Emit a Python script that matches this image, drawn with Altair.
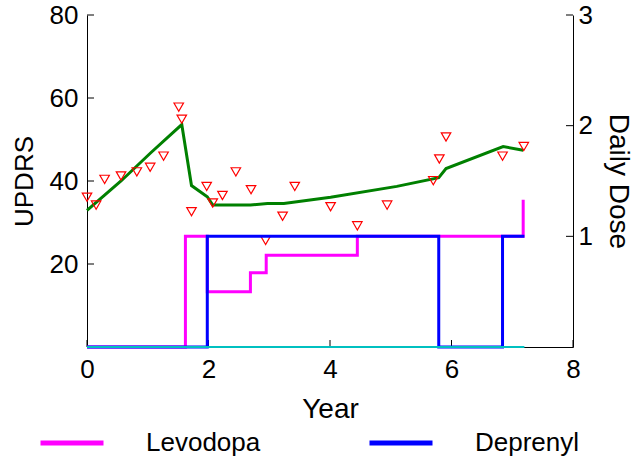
import altair as alt
import pandas as pd

# ---- data ----
obs_year = [0.0, 0.15, 0.29, 0.56, 0.82, 1.04, 1.26, 1.51, 1.56, 1.72, 1.97, 2.07, 2.23,
            2.45, 2.70, 2.94, 3.22, 3.42, 4.01, 4.45, 4.94, 5.70, 5.80, 5.91, 6.84, 7.19]
obs_updrs = [36.1, 34.2, 40.4, 41.2, 42.2, 43.3, 46.0, 57.8, 54.9, 32.6, 38.7, 34.7, 36.5,
             42.2, 37.9, 25.7, 31.5, 38.7, 33.8, 29.2, 34.2, 40.1, 45.3, 50.6, 46.0, 48.3]

fit_year = [0.0, 0.56, 1.05, 1.56, 1.72, 1.98, 2.07, 2.69, 2.97, 3.24, 4.01, 5.10, 5.79, 5.91, 6.85, 7.18]
fit_updrs = [32.9, 40.0, 46.8, 53.6, 38.9, 36.2, 34.2, 34.2, 34.6, 34.6, 36.1, 38.7, 40.8, 43.0, 48.3, 47.4]

levodopa_year = [0.0, 1.62, 1.98, 2.69, 2.95, 4.45, 7.18]
levodopa_dose = [0.0, 1.0, 0.5, 0.67, 0.83, 1.0, 1.33]

deprenyl_year = [0.0, 1.98, 5.79, 6.84, 7.2]
deprenyl_dose = [0.0, 1.0, 0.0, 1.0, 1.0]

other_year = [0.0, 7.2]
other_dose = [0.0, 0.0]

x_ticks = [0, 2, 4, 6, 8]
updrs_ticks = [20, 40, 60, 80]
dose_ticks = [1, 2, 3]
drugs = ["Levodopa", "Deprenyl"]
drug_colors = ["#ff00ff", "#0000ff"]

# ---- styling ----
FONT = "Liberation Sans"
FS = 26
W, H = 486, 332
TICK = 7

xs = alt.Scale(domain=[0, 8], nice=False, zero=False)
ys_left = alt.Scale(domain=[0, 80], nice=False)
ys_right = alt.Scale(domain=[0, 3], nice=False)

x_axis = alt.Axis(values=x_ticks, ticks=False, grid=False, domainColor="black", domainWidth=1,
                  labelFont=FONT, labelFontSize=FS, labelColor="black", labelPadding=9,
                  labelFlush=False, title="Year", titleFont=FONT, titleFontSize=28,
                  titleFontWeight="normal", titleColor="black", titleY=62, titleBaseline="middle")
left_axis = alt.Axis(orient="left", values=updrs_ticks, ticks=False, grid=False, domainColor="black",
                     domainWidth=1, labelFont=FONT, labelFontSize=FS, labelColor="black",
                     labelPadding=9, title="UPDRS", titleFont=FONT, titleFontSize=FS,
                     titleFontWeight="normal", titleColor="black", titleX=-63, titleY=H / 2,
                     titleBaseline="middle", titleAlign="center")
right_axis = alt.Axis(orient="right", values=dose_ticks, ticks=False, grid=False, domainColor="black",
                      domainWidth=1, labelFont=FONT, labelFontSize=FS, labelColor="black",
                      labelPadding=5, title="Daily Dose", titleFont=FONT, titleFontSize=28,
                      titleFontWeight="normal", titleColor="black", titleX=44, titleY=H / 2,
                      titleBaseline="middle", titleAlign="center")

legend = alt.Legend(title=None, orient="none", legendX=-49, legendY=394, direction="horizontal",
                    columns=2, symbolType="stroke", symbolSize=3969, symbolStrokeWidth=5,
                    labelFont=FONT, labelFontSize=FS, labelColor="black", labelOffset=40,
                    columnPadding=98, padding=0, labelBaseline="middle")
color_scale = alt.Scale(domain=drugs, range=drug_colors)

def X(field):
    return alt.X(f"{field}:Q", scale=xs, axis=x_axis)

# ---- left (UPDRS) layers ----
obs_df = pd.DataFrame({"year": obs_year, "updrs": obs_updrs})
fit_df = pd.DataFrame({"year": fit_year, "updrs": fit_updrs})

fit_line = alt.Chart(fit_df).mark_line(color="#008000", strokeWidth=3).encode(
    x=X("year"), y=alt.Y("updrs:Q", scale=ys_left, axis=left_axis))
obs_pts = alt.Chart(obs_df).mark_point(shape="triangle-down", filled=False, color="#ff0000",
                                       size=90, strokeWidth=1.2, opacity=1).encode(
    x=X("year"), y=alt.Y("updrs:Q", scale=ys_left, axis=left_axis))
left_ticks = alt.Chart(pd.DataFrame({"v": updrs_ticks})).mark_rule(color="black", strokeWidth=1).encode(
    y=alt.Y("v:Q", scale=ys_left, axis=left_axis), x=alt.value(0), x2=alt.value(TICK))
xtick_rules = alt.Chart(pd.DataFrame({"v": x_ticks})).mark_rule(color="black", strokeWidth=1).encode(
    x=X("v"), y=alt.value(H), y2=alt.value(H - TICK))

left = alt.layer(fit_line, obs_pts, left_ticks, xtick_rules)

# ---- right (dose) layers ----
lev_df = pd.DataFrame({"year": levodopa_year, "dose": levodopa_dose, "drug": drugs[0]})
dep_df = pd.DataFrame({"year": deprenyl_year, "dose": deprenyl_dose, "drug": drugs[1]})
oth_df = pd.DataFrame({"year": other_year, "dose": other_dose})

def dose_line(df):
    return alt.Chart(df).mark_line(interpolate="step-after", strokeWidth=3).encode(
        x=X("year"), y=alt.Y("dose:Q", scale=ys_right, axis=right_axis),
        color=alt.Color("drug:N", scale=color_scale, legend=legend))

oth_line = alt.Chart(oth_df).mark_line(color="#00c0c0", strokeWidth=2).encode(
    x=X("year"), y=alt.Y("dose:Q", scale=ys_right, axis=right_axis))
right_ticks = alt.Chart(pd.DataFrame({"v": dose_ticks})).mark_rule(color="black", strokeWidth=1).encode(
    y=alt.Y("v:Q", scale=ys_right, axis=right_axis), x=alt.value(W), x2=alt.value(W - TICK))

right = alt.layer(dose_line(lev_df), dose_line(dep_df), oth_line, right_ticks)

chart = alt.layer(left, right).resolve_scale(y="independent").properties(
    width=W, height=H,
    autosize=alt.AutoSizeParams(type="none"),
    padding={"left": 87, "top": 15, "right": 634 - 87 - W, "bottom": 463 - 15 - H},
    background="white",
).configure_view(stroke=None)

chart.save("out.html", embed_options={"renderer": "svg", "actions": False})
